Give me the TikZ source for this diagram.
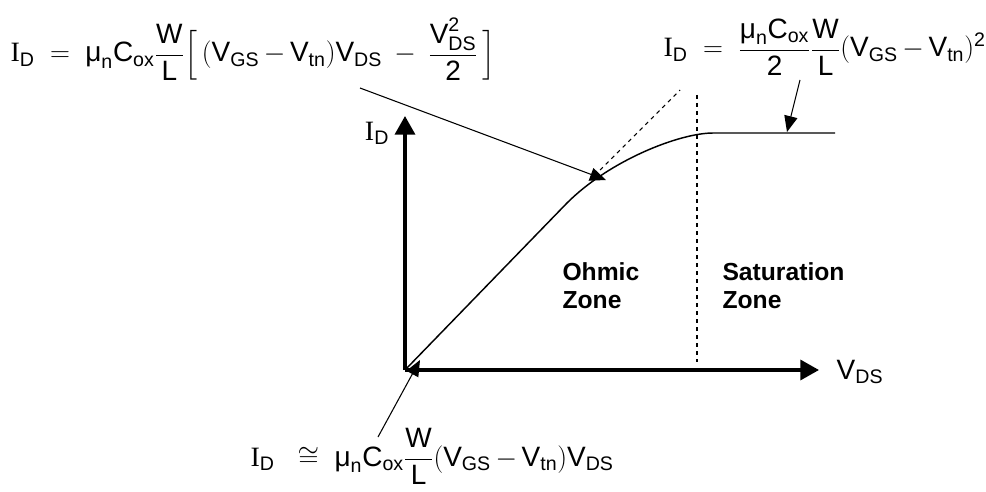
\documentclass[tikz,border=0pt]{standalone}
\usepackage{amsmath}
\usepackage{fontspec}
\setmainfont{Liberation Sans}
\newfontfamily\tnrfont{Liberation Serif}
\usetikzlibrary{arrows.meta, positioning}
\newcommand{\ID}{\text{\tnrfont I}_{\text{D}}}
\newcommand{\Vs}[1]{\text{V}_{\text{#1}}}
\newcommand{\mun}{\text{μ}_{\text{n}}}
\newcommand{\Cox}{\text{C}_{\text{ox}}}
\medmuskip=3mu
\tikzset{
  axis/.style={line width=2.6pt, -{Triangle[length=14pt, width=15pt]}},
  pointer/.style={line width=0.8pt, -{Triangle[length=12pt, width=10pt]}},
  formula/.style={font=\fontsize{21}{25}\selectfont, inner sep=0pt},
  zone/.style={font=\fontsize{18.5}{21}\selectfont\bfseries, align=left, inner sep=0pt},
}

\begin{document}
\begin{tikzpicture}[x=0.75pt, y=-0.75pt, thick, >=Stealth]
        \useasboundingbox (0,0) rectangle (986,492);
        % Axes
        \coordinate (O) at (405,370);
        \coordinate (ytop) at (405,116);
        \coordinate (xend) at (819,370);
        \draw[axis] (O) -- (ytop);
        \draw[axis] (O) -- (xend);
        \node[formula] (idaxis) at (377,133) {$\ID$};
        \node[formula] (vds) at (860,372) {$\Vs{DS}$};

        % Curve
        \coordinate (knee) at (567,203);
        \coordinate (peak) at (713,133);
        \coordinate (flatend) at (835,133);
        \draw[line width=1.1pt] (O) -- (knee) .. controls (610,160) and (680,133) .. (peak) -- (flatend);
        \draw[line width=0.8pt, dashed] (600,170) -- (680,90);
        \draw[line width=0.8pt, dashed] (697,95) -- (697,362);

        % Zones
        \node[zone, anchor=west] (ohmic) at (562,286) {Ohmic\\Zone};
        \node[zone, anchor=west] (sat) at (722,286) {Saturation\\Zone};

        % Formulas
        \node[formula, anchor=base west] (linear) at (10,62) {$\ID \;=\; \mun\Cox\dfrac{\text{W}}{\text{L}}\Bigl[\,(\Vs{GS}-\Vs{tn})\Vs{DS}\;-\;\dfrac{\text{V}_{\text{DS}}^{\text{2}}}{\text{2}}\,\Bigr]$};
        \node[formula, anchor=base west] (sateq) at (663,57) {$\ID \;=\; \dfrac{\mun\Cox}{\text{2}}\dfrac{\text{W}}{\text{L}}(\Vs{GS}-\Vs{tn})^{\text{2}}$};
        \node[formula, anchor=base west] (approx) at (250,466) {$\ID\;\;\cong\;\mun\Cox\dfrac{\text{W}}{\text{L}}(\Vs{GS}-\Vs{tn})\Vs{DS}$};

        % Pointers
        \coordinate (linfoot) at (360,88);
        \coordinate (lintip) at (606,180);
        \coordinate (satfoot) at (800,80);
        \coordinate (sattip) at (787,132);
        \coordinate (apxfoot) at (378,437);
        \coordinate (apxtip) at (420,360);
        \draw[pointer] (linfoot) -- (lintip);
        \draw[pointer] (satfoot) -- (sattip);
        \draw[pointer] (apxfoot) -- (apxtip);
\end{tikzpicture}
\end{document}
